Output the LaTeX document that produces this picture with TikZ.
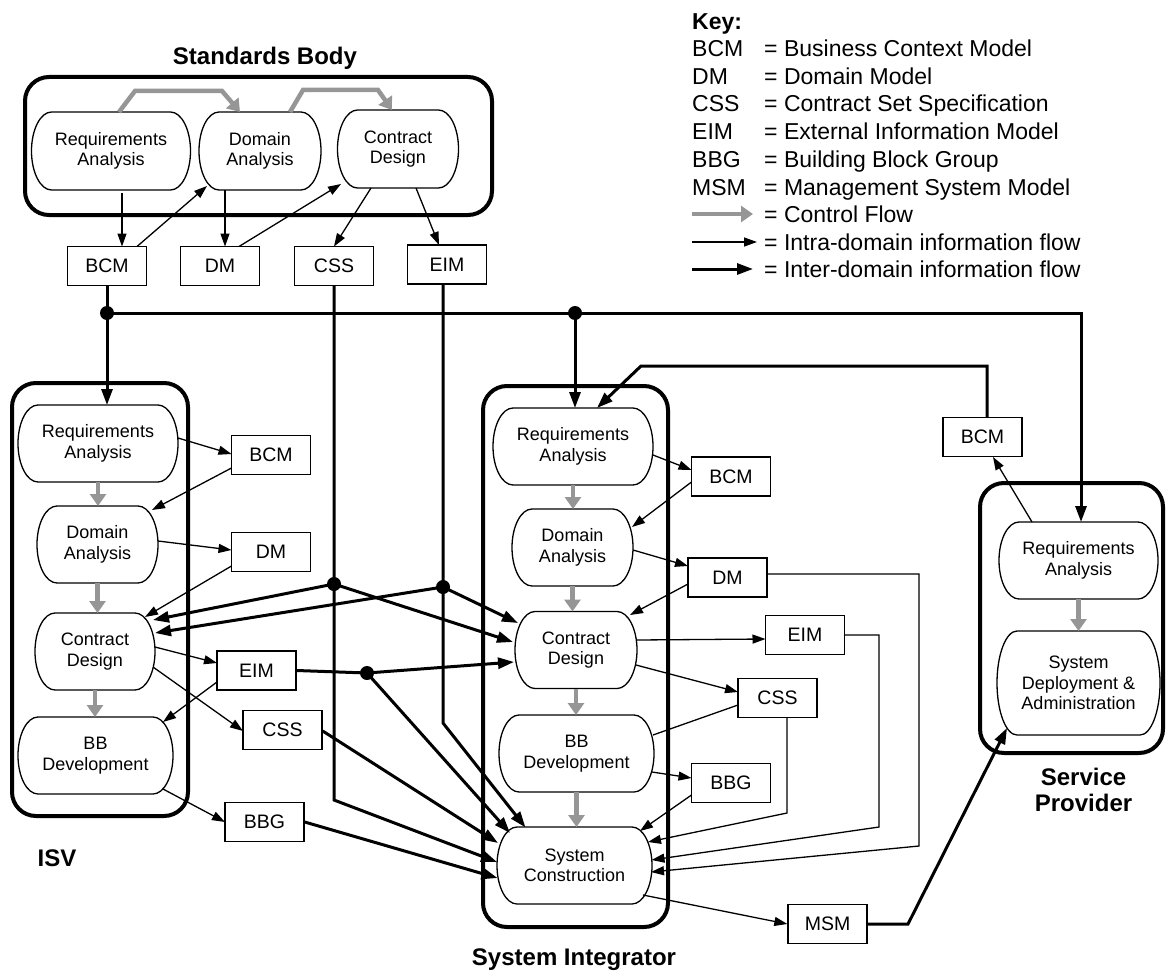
\documentclass[tikz,border=0pt]{standalone}
\usepackage{fontspec}
\setmainfont{Liberation Sans}
\usetikzlibrary{arrows.meta,calc}
\definecolor{ctrlgray}{RGB}{150,150,150}
\newcommand\procnode[6]{%
  \node[proctext, minimum width=#4pt, minimum height=#5pt] (#1) at (#2,#3) {#6};
  \draw[procline] ($(#1.north west)+(20,0)$) -- ($(#1.north east)+(-20,0)$)
    .. controls +(11,0) and +(0,{-0.276*#5}) .. (#1.east)
    .. controls +(0,{0.276*#5}) and +(11,0) .. ($(#1.south east)+(-20,0)$)
    -- ($(#1.south west)+(20,0)$)
    .. controls +(-11,0) and +(0,{0.276*#5}) .. (#1.west)
    .. controls +(0,{-0.276*#5}) and +(-11,0) .. cycle;
}
\begin{document}
\begin{tikzpicture}[x=1pt,y=-1pt,
  proctext/.style={align=center, inner sep=0pt, outer sep=0pt, font=\fontsize{18}{20.5}\selectfont},
  procline/.style={line width=1.3pt},
  infobox/.style={draw, line width=1.4pt, minimum width=79pt, minimum height=39pt, inner sep=0pt, font=\fontsize{19.5}{22}\selectfont},
  frame/.style={draw, line width=4pt, rounded corners=24pt, inner sep=0pt},
  intra/.style={line width=1.3pt, -{Triangle[length=13pt,width=9pt]}},
  intraline/.style={line width=1.3pt},
  inter/.style={line width=3pt, line join=miter, -{Triangle[length=16pt,width=11pt]}},
  interline/.style={line width=3pt},
  ctrl/.style={line width=4.5pt, draw=ctrlgray, -{Triangle[length=12pt,width=16pt]}},
  jdot/.style={circle, fill=black, inner sep=0pt, minimum size=14pt},
  ttl/.style={font=\fontsize{24}{26}\selectfont\bfseries, anchor=base, inner sep=0pt},
  keytxt/.style={font=\fontsize{23}{26}\selectfont, anchor=base west, inner sep=0pt}
]
\useasboundingbox (0,0) rectangle (1166,971);

% ---------- frames ----------
\node[frame, minimum width=467pt, minimum height=138pt] (fSB) at (258.5,146) {};
\node[frame, minimum width=176pt, minimum height=433pt] (fISV) at (100,599.5) {};
\node[frame, minimum width=185pt, minimum height=541pt] (fSI) at (575.5,656.5) {};
\node[frame, minimum width=183pt, minimum height=270pt] (fSP) at (1071.5,618) {};

% ---------- titles ----------
\node[ttl] (tSB) at (265,64.5) {Standards Body};
\node[ttl] (tISV) at (57,866.5) {ISV};
\node[ttl] (tSI) at (574,965.5) {System Integrator};
\node[ttl] (tSP1) at (1083.5,785.5) {Service};
\node[ttl] (tSP2) at (1083.5,811.5) {Provider};

% ---------- process nodes ----------
\procnode{sbReq}{111}{151}{159}{78}{Requirements\\Analysis}
\procnode{sbDom}{260}{151}{122}{78}{Domain\\Analysis}
\procnode{sbCD}{398}{149}{121}{78}{Contract\\Design}

\procnode{iReq}{98}{443.5}{160}{77}{Requirements\\Analysis}
\procnode{iDom}{97.5}{544.5}{121}{77}{Domain\\Analysis}
\procnode{iCD}{95}{651.5}{120}{77}{Contract\\Design}
\procnode{iBB}{95.5}{755.5}{155}{77}{BB\\Development}

\procnode{sReq}{573}{446.5}{160}{77}{Requirements\\Analysis}
\procnode{sDom}{572.5}{547.5}{121}{77}{Domain\\Analysis}
\procnode{sCD}{576}{650}{122}{77}{Contract\\Design}
\procnode{sBB}{576.5}{753.5}{155}{77}{BB\\Development}
\procnode{sSC}{574.5}{865.5}{155}{77}{System\\Construction}

\procnode{pReq}{1078.5}{560.5}{159}{77}{Requirements\\Analysis}
\procnode{pSD}{1078.5}{683}{163}{104}{System\\Deployment \&\\Administration}

% ---------- information boxes ----------
\node[infobox] (sbBCM) at (107,266) {BCM};
\node[infobox] (sbDM) at (220,266) {DM};
\node[infobox] (sbCSS) at (334,266) {CSS};
\node[infobox] (sbEIM) at (447,264.5) {EIM};

\node[infobox] (iBCM) at (271,455) {BCM};
\node[infobox] (iDM) at (271,552) {DM};
\node[infobox] (iEIM) at (256.5,670.5) {EIM};
\node[infobox] (iCSS) at (282.5,730) {CSS};
\node[infobox] (iBBG) at (264.5,822) {BBG};

\node[infobox] (sBCM) at (731,476.5) {BCM};
\node[infobox] (sDM) at (727.5,577.5) {DM};
\node[infobox] (sEIM) at (805,635) {EIM};
\node[infobox] (sCSS) at (777.5,698) {CSS};
\node[infobox] (sBBG) at (731,783) {BBG};

\node[infobox] (pBCM) at (982.5,437) {BCM};
\node[infobox] (MSM) at (827.5,924) {MSM};

% ---------- junctions and bends ----------
\node[jdot] (J0) at (107,313) {};
\node[jdot] (J4) at (575,313) {};
\node[jdot] (J1) at (334,584) {};
\node[jdot] (J2) at (443,587) {};
\node[jdot] (J3) at (367,673) {};
\coordinate (Jr) at (1081,313);
\coordinate (B1) at (334,800);
\coordinate (B2) at (443,723);
\coordinate (R1) at (787,813);
\coordinate (R2a) at (879,635);
\coordinate (R2b) at (879,827);
\coordinate (R3a) at (919,574);
\coordinate (R3b) at (919,846);
\coordinate (M1) at (908,924);
\coordinate (P1) at (987,366);
\coordinate (P2) at (641,366);

% ---------- control flow ----------
\draw[ctrl] ($(sbReq.north)+(8,0)$) -- ++(16,-21) -- ++(87,0) -- ($(sbDom.north)+(-20,0)$);
\draw[ctrl] ($(sbDom.north)+(30,0)$) -- ++(13,-22) -- ++(75,0) -- ($(sbCD.north)+(-6,0)$);
\draw[ctrl] (iReq.south) -- (iReq.south |- iDom.north);
\draw[ctrl] (iDom.south) -- (iDom.south |- iCD.north);
\draw[ctrl] (iCD.south) -- (iCD.south |- iBB.north);
\draw[ctrl] (sReq.south) -- (sReq.south |- sDom.north);
\draw[ctrl] (sDom.south) -- (sDom.south |- sCD.north);
\draw[ctrl] (sCD.south) -- (sCD.south |- sBB.north);
\draw[ctrl] (sBB.south) -- (sBB.south |- sSC.north);
\draw[ctrl] (pReq.south) -- (pReq.south |- pSD.north);

% ---------- standards body intra ----------
\draw[intra] ($(sbReq)+(11,42)$) -- ($(sbBCM)+(15,-19.5)$);
\draw[intra] ($(sbBCM)+(30,-19.5)$) -- ($(sbDom)+(-53,35)$);
\draw[intra] ($(sbDom)+(-35,39)$) -- ($(sbDM)+(5,-19.5)$);
\draw[intra] ($(sbDM)+(19,-19.5)$) -- ($(sbCD)+(-57,35)$);
\draw[intra] ($(sbCD)+(-27,39)$) -- ($(sbCSS)+(0,-19.5)$);
\draw[intra] ($(sbCD)+(18,39)$) -- ($(sbEIM)+(-8,-19.5)$);

% ---------- inter-domain ----------
\draw[interline] (sbBCM.south) -- (J0.center);
\draw[inter] (J0.center) -- (J0 |- iReq.north);
\draw[inter] (J0.center) -- (Jr) -- (Jr |- pReq.north);
\draw[inter] (J4.center) -- (J4 |- sReq.north);
\draw[inter] (sbCSS.south) -- (J1.center) -- (B1) -- ($(sSC)+(-77.5,-3.5)$);
\draw[inter] ($(sbEIM.south)+(-4,0)$) -- (J2.center) -- (B2) -- ($(sSC)+(-49,-38)$);
\draw[inter] (J1.center) -- ($(iCD)+(58,-31.5)$);
\draw[inter] (J2.center) -- ($(iCD)+(60,-18.5)$);
\draw[inter] (J1.center) -- ($(sCD)+(-63,-8)$);
\draw[inter] (J2.center) -- ($(sCD)+(-58,-27)$);
\draw[inter] (iEIM.east) -- (J3.center) -- ($(sCD)+(-62,12)$);
\draw[inter] (J3.center) -- ($(sSC)+(-64.5,-32.5)$);
\draw[inter] ($(iCSS.east)+(0,1)$) -- ($(sSC)+(-76.5,-22.5)$);
\draw[inter] (iBBG.east) -- ($(sSC)+(-77,12.5)$);
\draw[inter] (MSM.east) -- (M1) -- ($(pSD)+(-71.5,45)$);
\draw[inter] ($(pBCM.north)+(4.5,0)$) -- (P1) -- (P2) -- ($(sReq)+(24,-38.5)$);

% ---------- ISV intra ----------
\draw[intra] ($(iReq)+(80,-5.5)$) -- ($(iBCM)+(-39.5,-1)$);
\draw[intra] ($(iBCM)+(-39.5,13)$) -- ($(iDom)+(54.5,-34.5)$);
\draw[intra] ($(iDom)+(60.5,-3.5)$) -- ($(iDM)+(-39.5,-2)$);
\draw[intra] ($(iDM)+(-39.5,14)$) -- ($(iCD)+(50,-34.5)$);
\draw[intra] ($(iCD)+(60,-4.5)$) -- ($(iEIM)+(-39.5,-7.5)$);
\draw[intra] ($(iEIM)+(-39.5,11.5)$) -- ($(iBB)+(67.5,-33.5)$);
\draw[intra] ($(iCD)+(58,15.5)$) -- ($(iCSS)+(-39.5,1)$);
\draw[intra] ($(iBB)+(67.5,33.5)$) -- ($(iBBG)+(-39.5,0)$);

% ---------- SI intra ----------
\draw[intra] ($(sReq)+(80,8.5)$) -- ($(sBCM)+(-39.5,-6.5)$);
\draw[intra] ($(sBCM)+(-39.5,5.5)$) -- ($(sDom)+(59.5,-20.5)$);
\draw[intra] ($(sDom)+(60.5,2.5)$) -- ($(sDM)+(-39.5,-11.5)$);
\draw[intra] ($(sDM)+(-39.5,6.5)$) -- ($(sCD)+(54,-35)$);
\draw[intra] ($(sCD)+(61,-10)$) -- ($(sEIM)+(-39.5,4)$);
\draw[intra] ($(sCD)+(60,15)$) -- ($(sCSS)+(-39.5,-6)$);
\draw[intraline] ($(sCSS)+(-39.5,7)$) -- ($(sBB)+(76.5,-18.5)$);
\draw[intra] ($(sBB)+(75.5,18.5)$) -- ($(sBBG)+(-39.5,-5)$);
\draw[intra] ($(sBBG)+(-39.5,12)$) -- ($(sSC)+(65.5,-34.5)$);
\draw[intra] ($(sCSS)+(9.5,19.5)$) -- (R1) -- ($(sSC)+(73.5,-23.5)$);
\draw[intra] (sEIM.east) -- (R2a) -- (R2b) -- ($(sSC)+(77,-5.5)$);
\draw[intra] ($(sDM)+(39.5,-3.5)$) -- (R3a) -- (R3b) -- ($(sSC)+(76.5,6.5)$);
\draw[intra] ($(sSC)+(68.5,29.5)$) -- (MSM.west);

% ---------- SP intra ----------
\draw[intra] ($(pReq)+(-46.5,-38.5)$) -- ($(pBCM)+(10.5,20)$);

% ---------- key ----------
\node[keytxt, font=\fontsize{23}{26}\selectfont\bfseries] (kKey) at (692,29.25) {Key:};
\node[keytxt] (kA1) at (692,56.25) {BCM};
\node[keytxt] (kB1) at (764,56.25) {= Business Context Model};
\node[keytxt] (kA2) at (692,84.25) {DM};
\node[keytxt] (kB2) at (764,84.25) {= Domain Model};
\node[keytxt] (kA3) at (692,111.25) {CSS};
\node[keytxt] (kB3) at (764,111.25) {= Contract Set Specification};
\node[keytxt] (kA4) at (692,139.25) {EIM};
\node[keytxt] (kB4) at (764,139.25) {= External Information Model};
\node[keytxt] (kA5) at (692,167.25) {BBG};
\node[keytxt] (kB5) at (764,167.25) {= Building Block Group};
\node[keytxt] (kA6) at (692,195.25) {MSM};
\node[keytxt] (kB6) at (764,195.25) {= Management System Model};
\node[keytxt] (kB7) at (764,222.25) {= Control Flow};
\node[keytxt] (kB8) at (764,250.25) {= Intra-domain information flow};
\node[keytxt] (kB9) at (764,277.25) {= Inter-domain information flow};
\coordinate (kc1) at (692,214);
\coordinate (kc2) at (753,214);
\coordinate (ki1) at (692,242);
\coordinate (ki2) at (757,242);
\coordinate (ke1) at (692,269);
\coordinate (ke2) at (753,269);
\draw[ctrl] (kc1) -- (kc2);
\draw[intra] (ki1) -- (ki2);
\draw[inter] (ke1) -- (ke2);
\end{tikzpicture}
\end{document}
